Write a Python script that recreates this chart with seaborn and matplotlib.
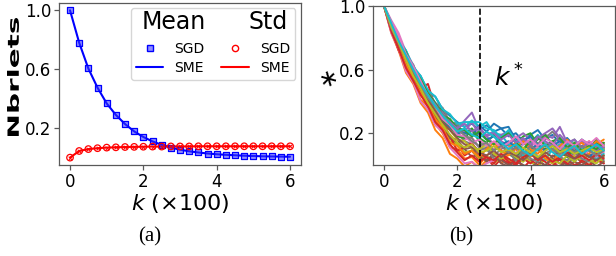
import matplotlib
matplotlib.use("Agg")
import matplotlib.pyplot as plt
import seaborn as sns
import pandas as pd
from matplotlib.lines import Line2D
from matplotlib.textpath import TextPath
from matplotlib.patches import PathPatch
from matplotlib.font_manager import FontProperties
from matplotlib.transforms import Affine2D

# ---------------- data: panel (a) ----------------
k_a = [0.0, 0.25, 0.5, 0.75, 1.0, 1.25, 1.5, 1.75, 2.0, 2.25, 2.5, 2.75, 3.0,
       3.25, 3.5, 3.75, 4.0, 4.25, 4.5, 4.75, 5.0, 5.25, 5.5, 5.75, 6.0]
sgd_mean = [1.0, 0.78, 0.605, 0.475, 0.368, 0.29, 0.228, 0.178, 0.14, 0.11, 0.087,
            0.068, 0.054, 0.043, 0.035, 0.028, 0.023, 0.019, 0.016, 0.013, 0.011,
            0.009, 0.008, 0.007, 0.006]
sgd_std = [0.0, 0.045, 0.058, 0.064, 0.068, 0.070, 0.072, 0.073, 0.074, 0.075, 0.075,
           0.076, 0.076, 0.076, 0.077, 0.077, 0.077, 0.077, 0.077, 0.077, 0.077,
           0.077, 0.077, 0.077, 0.077]
sme_mean = [1.0, 0.78, 0.605, 0.475, 0.368, 0.29, 0.228, 0.178, 0.14, 0.11, 0.087,
            0.068, 0.054, 0.043, 0.035, 0.028, 0.023, 0.019, 0.016, 0.013, 0.011,
            0.009, 0.008, 0.007, 0.006]
sme_std = [0.0, 0.045, 0.058, 0.064, 0.068, 0.070, 0.072, 0.073, 0.074, 0.075, 0.075,
           0.076, 0.076, 0.076, 0.077, 0.077, 0.077, 0.077, 0.077, 0.077, 0.077,
           0.077, 0.077, 0.077, 0.077]

# ---------------- data: panel (b) ----------------
k_b = [0.0, 0.2, 0.4, 0.6, 0.8, 1.0, 1.2, 1.4, 1.6, 1.8, 2.0, 2.2, 2.4, 2.6, 2.8,
       3.0, 3.2, 3.4, 3.6, 3.8, 4.0, 4.2, 4.4, 4.6, 4.8, 5.0, 5.2, 5.4, 5.6, 5.8, 6.0]
run01 = [1.00,0.90,0.79,0.72,0.61,0.56,0.46,0.43,0.35,0.31,0.27,0.24,0.26,0.22,0.25,0.21,0.23,0.18,0.20,0.15,0.19,0.22,0.16,0.19,0.14,0.17,0.12,0.16,0.13,0.11,0.14]
run02 = [1.00,0.83,0.72,0.58,0.51,0.39,0.33,0.22,0.17,0.07,0.04,-0.01,0.02,-0.02,0.03,0.06,0.01,0.07,0.10,0.04,0.08,0.12,0.06,0.02,0.09,0.05,0.13,0.08,0.15,0.10,0.14]
run03 = [1.00,0.88,0.81,0.67,0.62,0.51,0.47,0.38,0.34,0.26,0.25,0.20,0.23,0.17,0.14,0.19,0.12,0.09,0.13,0.18,0.20,0.13,0.10,0.15,0.11,0.07,0.12,0.15,0.10,0.16,0.13]
run04 = [1.00,0.85,0.72,0.63,0.52,0.48,0.51,0.36,0.29,0.17,0.13,0.06,0.09,0.03,0.05,-0.01,0.04,0.01,0.05,-0.02,0.03,0.00,0.04,0.01,-0.01,0.03,0.00,0.02,-0.01,0.04,0.01]
run05 = [1.00,0.89,0.77,0.70,0.58,0.53,0.43,0.39,0.30,0.28,0.22,0.28,0.33,0.22,0.19,0.21,0.15,0.12,0.17,0.20,0.16,0.13,0.19,0.17,0.24,0.14,0.11,0.15,0.09,0.13,0.10]
run06 = [1.00,0.86,0.74,0.65,0.54,0.47,0.37,0.33,0.24,0.19,0.13,0.10,0.05,0.07,0.02,0.06,0.03,0.00,0.04,0.07,0.02,0.05,-0.01,0.06,0.03,0.00,0.05,0.02,0.07,0.03,0.05]
run07 = [1.00,0.91,0.83,0.71,0.63,0.51,0.45,0.34,0.30,0.22,0.21,0.16,0.17,0.11,0.13,0.10,0.14,0.08,0.12,0.16,0.13,0.18,0.12,0.09,0.14,0.10,0.06,0.12,0.15,0.10,0.08]
run08 = [1.00,0.87,0.79,0.69,0.63,0.52,0.45,0.35,0.31,0.23,0.20,0.15,0.13,0.09,0.11,0.06,0.10,0.13,0.07,0.05,0.09,0.13,0.17,0.21,0.16,0.12,0.08,0.11,0.05,0.09,0.06]
run09 = [1.00,0.85,0.75,0.62,0.55,0.44,0.39,0.28,0.24,0.15,0.13,0.08,0.09,0.04,0.06,0.01,0.05,0.03,0.00,0.05,0.02,-0.01,0.04,0.01,0.05,0.02,0.06,0.03,0.00,0.05,0.02]
run10 = [1.00,0.88,0.78,0.66,0.59,0.49,0.44,0.36,0.32,0.25,0.26,0.24,0.28,0.24,0.27,0.20,0.19,0.13,0.12,0.06,0.11,0.05,0.03,0.10,0.13,0.06,0.02,0.08,0.11,0.04,0.07]
run11 = [1.00,0.87,0.75,0.66,0.55,0.49,0.39,0.35,0.27,0.24,0.19,0.23,0.18,0.25,0.21,0.26,0.23,0.24,0.16,0.15,0.18,0.12,0.09,0.13,0.08,0.06,0.12,0.08,0.05,0.09,0.11]
run12 = [1.00,0.84,0.73,0.60,0.52,0.41,0.37,0.26,0.20,0.11,0.10,0.04,0.05,0.00,0.06,0.09,0.04,0.11,0.14,0.08,0.05,0.11,0.04,0.02,0.08,0.13,0.16,0.09,0.07,0.13,0.16]
run13 = [1.00,0.88,0.75,0.67,0.56,0.50,0.41,0.36,0.28,0.25,0.18,0.17,0.22,0.15,0.12,0.09,0.13,0.07,0.04,0.10,0.13,0.16,0.19,0.13,0.09,0.05,0.10,0.04,0.11,0.14,0.12]
run14 = [1.00,0.86,0.73,0.64,0.53,0.47,0.36,0.31,0.21,0.18,0.09,0.11,0.14,0.07,0.05,0.01,0.07,0.02,0.00,0.04,0.01,0.05,0.02,-0.01,0.04,0.01,-0.02,0.03,0.00,0.03,0.01]
run15 = [1.00,0.89,0.80,0.69,0.62,0.51,0.46,0.37,0.33,0.26,0.24,0.21,0.27,0.19,0.18,0.13,0.19,0.21,0.15,0.16,0.11,0.17,0.20,0.23,0.17,0.13,0.10,0.16,0.12,0.09,0.13]
run16 = [1.00,0.85,0.76,0.63,0.56,0.45,0.41,0.30,0.26,0.17,0.16,0.10,0.11,0.05,0.03,0.07,0.01,-0.01,0.03,0.00,-0.02,0.02,0.00,0.04,0.01,-0.01,0.02,0.00,0.03,-0.01,0.02]
run17 = [1.00,0.83,0.73,0.59,0.52,0.40,0.35,0.25,0.21,0.11,0.06,0.01,0.02,-0.02,0.01,0.03,0.08,0.11,0.07,0.13,0.16,0.10,0.15,0.09,0.06,0.12,0.07,0.04,0.10,0.05,0.09]
run18 = [1.00,0.88,0.79,0.67,0.62,0.53,0.47,0.39,0.36,0.27,0.26,0.18,0.17,0.11,0.10,0.04,0.05,0.08,0.03,0.09,0.04,0.02,0.07,0.10,0.05,0.03,0.08,0.04,0.02,0.07,0.03]
run19 = [1.00,0.87,0.76,0.68,0.56,0.49,0.40,0.35,0.26,0.22,0.16,0.15,0.10,0.10,0.13,0.07,0.04,0.09,0.05,0.02,0.07,0.10,0.06,0.03,0.01,0.06,0.02,0.07,0.03,0.01,0.06]
run20 = [1.00,0.90,0.79,0.72,0.62,0.56,0.47,0.43,0.35,0.32,0.26,0.27,0.27,0.27,0.23,0.22,0.17,0.22,0.15,0.13,0.14,0.19,0.13,0.12,0.07,0.13,0.16,0.10,0.10,0.06,0.11]
run21 = [1.00,0.87,0.77,0.66,0.58,0.50,0.42,0.37,0.29,0.26,0.21,0.20,0.19,0.20,0.16,0.18,0.13,0.15,0.11,0.14,0.10,0.13,0.09,0.12,0.15,0.11,0.08,0.12,0.09,0.13,0.10]
run22 = [1.00,0.86,0.74,0.64,0.53,0.46,0.38,0.29,0.23,0.14,0.12,0.07,0.09,0.05,0.10,0.14,0.09,0.06,0.11,0.15,0.10,0.07,0.13,0.09,0.12,0.16,0.11,0.14,0.10,0.15,0.12]
run23 = [1.00,0.89,0.78,0.71,0.60,0.54,0.45,0.39,0.31,0.29,0.23,0.22,0.18,0.21,0.16,0.13,0.17,0.20,0.14,0.10,0.15,0.18,0.12,0.15,0.17,0.11,0.14,0.09,0.12,0.10,0.14]
run24 = [1.00,0.84,0.73,0.61,0.53,0.44,0.37,0.27,0.22,0.13,0.08,0.03,0.06,0.02,0.05,0.03,0.07,0.04,0.01,0.05,0.07,0.03,0.06,0.02,0.05,0.08,0.04,0.06,0.03,0.07,0.04]
run25 = [1.00,0.88,0.79,0.68,0.61,0.52,0.44,0.38,0.31,0.27,0.23,0.26,0.21,0.24,0.18,0.20,0.16,0.19,0.14,0.17,0.13,0.18,0.15,0.12,0.19,0.14,0.16,0.11,0.14,0.12,0.11]
run26 = [1.00,0.87,0.76,0.66,0.57,0.48,0.41,0.34,0.27,0.22,0.17,0.13,0.11,0.08,0.06,0.09,0.05,0.08,0.06,0.03,0.07,0.04,0.08,0.05,0.09,0.06,0.04,0.08,0.05,0.03,0.06]
run27 = [1.00,0.90,0.81,0.70,0.62,0.53,0.43,0.37,0.29,0.25,0.19,0.18,0.14,0.16,0.12,0.15,0.11,0.14,0.18,0.13,0.16,0.12,0.17,0.14,0.10,0.15,0.12,0.16,0.13,0.17,0.12]
run28 = [1.00,0.86,0.77,0.66,0.59,0.50,0.42,0.37,0.32,0.26,0.22,0.19,0.15,0.12,0.14,0.09,0.12,0.08,0.11,0.07,0.12,0.09,0.13,0.10,0.07,0.11,0.08,0.12,0.09,0.06,0.09]
run29 = [1.00,0.87,0.77,0.66,0.56,0.48,0.39,0.32,0.25,0.19,0.14,0.11,0.13,0.08,0.09,0.12,0.08,0.10,0.07,0.11,0.08,0.05,0.09,0.12,0.08,0.10,0.07,0.09,0.11,0.08,0.10]
run30 = [1.00,0.89,0.78,0.69,0.60,0.51,0.44,0.37,0.31,0.26,0.21,0.23,0.19,0.17,0.21,0.18,0.14,0.10,0.13,0.09,0.06,0.10,0.13,0.08,0.05,0.09,0.12,0.07,0.10,0.13,0.09]
runs = [run01, run02, run03, run04, run05, run06, run07, run08, run09, run10,
        run11, run12, run13, run14, run15, run16, run17, run18, run19, run20,
        run21, run22, run23, run24, run25, run26, run27, run28, run29, run30]
k_star = 2.63

x_ticks = [0, 2, 4, 6]
y_ticks = [0.2, 0.6, 1.0]

# ---------------- figure ----------------
sns.set_style("white")
plt.rcParams['font.family'] = ['DejaVu Sans']
plt.rcParams['text.color'] = 'black'
plt.rcParams['axes.labelcolor'] = 'black'
fig = plt.figure(figsize=(6.16, 2.56), dpi=100)
axA = fig.add_axes([0.0958, 0.3555, 0.3929, 0.633])
axB = fig.add_axes([0.6055, 0.3555, 0.3925, 0.621])

for ax in (axA, axB):
    for s in ax.spines.values():
        s.set_color('0.35')
        s.set_linewidth(0.9)
    ax.tick_params(axis='both', which='both', direction='out', length=3.5,
                   width=0.9, color='0.35', labelsize=12, pad=2,
                   labelcolor='black', bottom=True, left=True)
    ax.set_xticks(x_ticks)
    ax.set_yticks(y_ticks)
    ax.set_yticklabels([f"{v:.1f}" for v in y_ticks])
    ax.set_xlim(-0.3, 6.3)

# panel (a)
sns.lineplot(x=k_a, y=sme_mean, ax=axA, color='blue', lw=1.5, zorder=2)
sns.lineplot(x=k_a, y=sme_std, ax=axA, color='red', lw=1.5, zorder=2)
sns.scatterplot(x=k_a, y=sgd_mean, ax=axA, marker='s', s=24,
                color=(0.2, 0.2, 1.0, 0.55), edgecolor='blue', linewidth=0.9, zorder=3)
sns.scatterplot(x=k_a, y=sgd_std, ax=axA, marker='o', s=22,
                facecolor='none', edgecolor='red', linewidth=0.9, zorder=3)
sns.scatterplot(x=k_a, y=sgd_std, ax=axA, marker='x', s=7,
                color='red', linewidth=0.7, zorder=3)
axA.set_ylim(-0.05, 1.05)
axA.set_xlabel("$k$ ($\\times$100)", fontsize=16, labelpad=1)
axA.set_ylabel("")

h_blank = Line2D([], [], linestyle='none', marker=None)
h_sgd_m = Line2D([], [], linestyle='none', marker='s', markersize=4.5,
                 markerfacecolor=(0.2, 0.2, 1.0, 0.55), markeredgecolor='blue')
h_sme_m = Line2D([], [], color='blue', lw=1.5)
h_sgd_s = Line2D([], [], linestyle='none', marker='o', markersize=4.5,
                 markerfacecolor='none', markeredgecolor='red')
h_sme_s = Line2D([], [], color='red', lw=1.5)
leg = axA.legend([h_blank, h_sgd_m, h_sme_m, h_blank, h_sgd_s, h_sme_s],
                 [" ", "SGD", "SME", " ", "SGD", "SME"],
                 ncol=2, loc='upper right', fontsize=10, frameon=True,
                 handlelength=2.0, columnspacing=1.2, borderaxespad=0.4,
                 labelspacing=0.35, handletextpad=0.8, borderpad=0.35)
leg.get_texts()[0].set_fontsize(17)
leg.get_texts()[3].set_fontsize(17)
axA.text(0.34, 0.88, "Mean", transform=axA.transAxes, fontsize=17,
         ha='left', va='center', zorder=10)
axA.text(0.945, 0.88, "Std", transform=axA.transAxes, fontsize=17,
         ha='right', va='center', zorder=10)

# panel (b)
pal = sns.color_palette("tab10", 10)
rows = []
for i, r in enumerate(runs):
    for kk, v in zip(k_b, r):
        rows.append({"k": kk, "v": v, "run": i})
df = pd.DataFrame(rows)
sns.lineplot(data=df, x="k", y="v", hue="run", ax=axB,
             palette=[pal[i % 10] for i in range(len(runs))],
             legend=False, lw=1.4)
axB.axvline(k_star, color='black', ls='--', lw=1.2)
axB.text(3.0, 0.55, "$k^*$", fontsize=18, ha='left', va='center')
axB.set_ylim(0.0, 1.0)
axB.set_xlabel("$k$ ($\\times$100)", fontsize=16, labelpad=1)
axB.set_ylabel("")

# y label of (a): garbled, stretched bold glyphs in the original
tp = TextPath((0, 0), "Nbrlets", size=10,
              prop=FontProperties(family='DejaVu Sans', weight='bold'))
bb = tp.get_extents()
tr = (Affine2D().translate(-bb.x0 - bb.width / 2, -bb.y0 - bb.height / 2)
      .scale(118 / bb.width, 12 / bb.height).rotate_deg(90)
      .translate(13, 256 - 77))
fig.add_artist(PathPatch(tp, transform=tr, facecolor='black', lw=0))
# y label of (b)
fig.text(330 / 616, 1 - 80 / 256, "$\\ast$", rotation=75, fontsize=17,
         ha='center', va='center')

# captions
fig.text(150 / 616, 1 - 237 / 256, "(a)", fontsize=15, family='Liberation Serif',
         ha='center', va='center')
fig.text(461 / 616, 1 - 237 / 256, "(b)", fontsize=15, family='Liberation Serif',
         ha='center', va='center')

fig.savefig("out.png", dpi=100)
